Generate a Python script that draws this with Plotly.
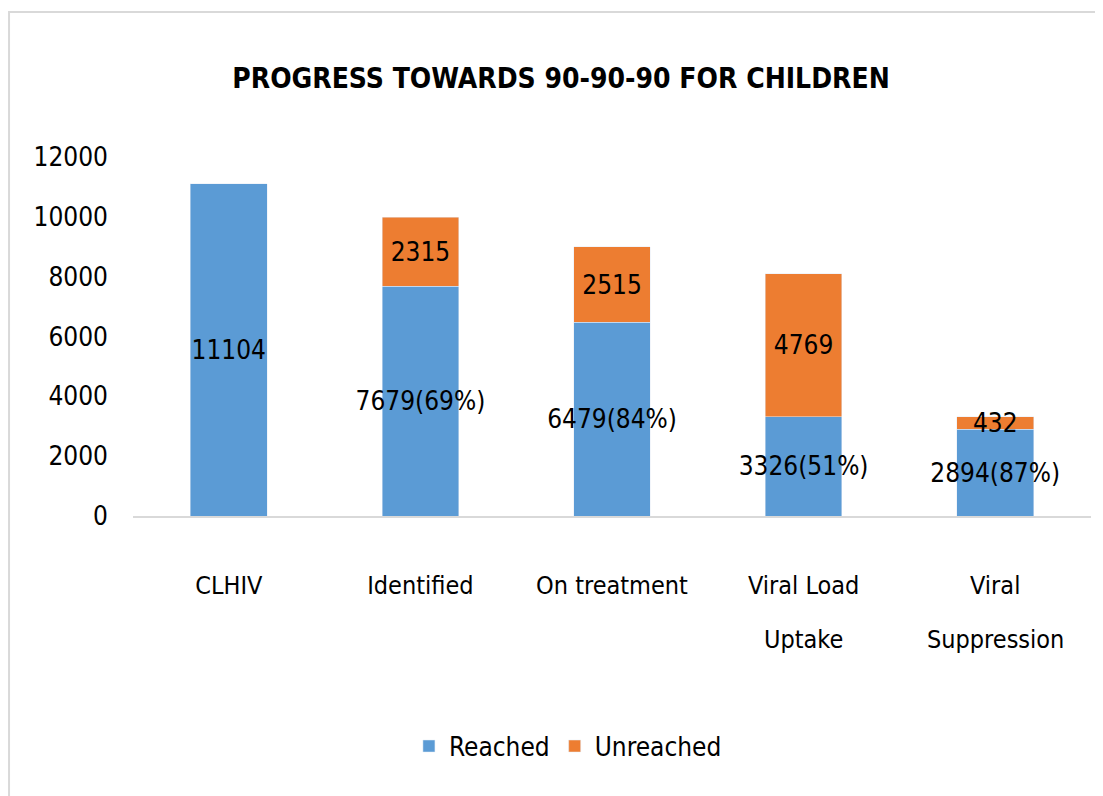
import plotly.graph_objects as go

categories = ["CLHIV", "Identified", "On treatment", "Viral Load Uptake", "Viral Suppression"]
tick_line1 = ["CLHIV", "Identified", "On treatment", "Viral Load", "Viral"]
tick_line2 = ["", "", "", "Uptake", "Suppression"]
reached = [11104, 7679, 6479, 3326, 2894]
reached_labels = ["11104", "7679(69%)", "6479(84%)", "3326(51%)", "2894(87%)"]
unreached = [None, 2315, 2515, 4769, 432]
unreached_labels = ["", "2315", "2515", "4769", "432"]
y_ticks = [0, 2000, 4000, 6000, 8000, 10000, 12000]
y_tick_text = ["0", "2000", "4000", "6000", "8000", "10000", "12000"]

FONT = "DejaVu Sans Condensed, Liberation Sans Narrow, sans-serif"
BLUE = "#5B9BD5"
ORANGE = "#ED7D31"
FS = 26

fig = go.Figure()
fig.add_trace(go.Bar(
    x=categories, y=reached, name="Reached", marker_color=BLUE,
    text=reached_labels, textposition="inside", insidetextanchor="middle",
    textangle=0, constraintext="none", cliponaxis=False,
    textfont=dict(family=FONT, size=FS, color="#000000"),
))
fig.add_trace(go.Bar(
    x=categories, y=unreached, name="Unreached", marker_color=ORANGE,
    text=unreached_labels, textposition="inside", insidetextanchor="middle",
    textangle=0, constraintext="none", cliponaxis=False,
    textfont=dict(family=FONT, size=FS, color="#000000"),
))

annotations = [
    dict(x=c, y=-0.345, xref="x", yref="paper", text=t, showarrow=False,
         xanchor="center", yanchor="middle", font=dict(family=FONT, size=25, color="#000000"))
    for c, t in zip(categories, tick_line2) if t
]

fig.update_layout(
    barmode="stack",
    bargap=0.6,
    width=1095, height=788,
    margin=dict(l=125, r=12, t=149, b=280),
    paper_bgcolor="white", plot_bgcolor="white",
    font=dict(family=FONT, size=FS, color="#000000"),
    title=dict(text="<b>PROGRESS TOWARDS 90-90-90 FOR CHILDREN</b>",
               x=0.4468, xref="paper", xanchor="center", y=0.911, yanchor="middle",
               font=dict(family=FONT, size=28, color="#000000")),
    showlegend=True,
    legend=dict(orientation="h", x=0.454, xanchor="center", y=-0.641, yanchor="middle",
                font=dict(family=FONT, size=FS), traceorder="normal", itemwidth=30),
    yaxis=dict(range=[0, 12000], tickvals=y_ticks, ticktext=y_tick_text,
               showgrid=False, zeroline=False,
               showline=False, ticks="", tickfont=dict(family=FONT, size=FS), ticklabelstandoff=24),
    xaxis=dict(showline=True, linecolor="#d9d9d9", linewidth=2, ticks="",
               tickvals=categories, ticktext=tick_line1,
               tickfont=dict(family=FONT, size=25), ticklabelstandoff=46),
    annotations=annotations,
    shapes=[dict(type="rect", xref="paper", yref="paper", x0=-0.1294, x1=1.03,
                 y0=-0.8, y1=1.404, line=dict(color="#d9d9d9", width=2), layer="below")],
)

fig.write_html("out.html")
